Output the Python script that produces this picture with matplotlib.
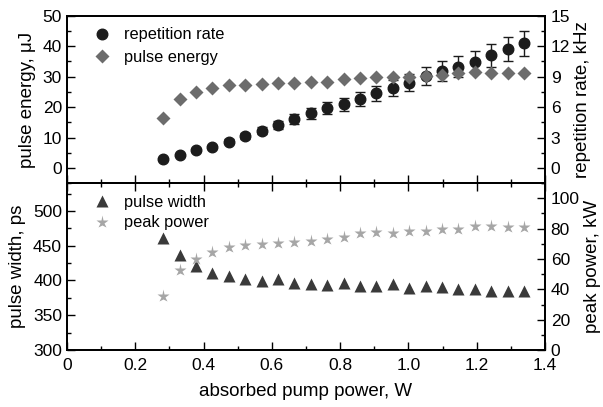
import matplotlib
matplotlib.use("Agg")
import matplotlib.pyplot as plt
from matplotlib.ticker import MultipleLocator, FixedLocator
from matplotlib.lines import Line2D

plt.rcParams['font.family'] = ['Liberation Sans', 'DejaVu Sans']
plt.rcParams['font.size'] = 11.5

# absorbed pump power, W
power = [0.282, 0.330, 0.378, 0.426, 0.474, 0.522, 0.570, 0.618, 0.666, 0.714,
         0.762, 0.810, 0.858, 0.906, 0.954, 1.002, 1.050, 1.098, 1.146, 1.194,
         1.242, 1.290, 1.338]
# pulse energy, uJ
pulse_energy = [16.4, 22.6, 25.1, 26.4, 27.3, 27.3, 27.6, 27.9, 27.9, 28.4,
                28.4, 29.3, 29.7, 29.8, 29.8, 30.0, 30.3, 30.6, 31.1, 31.4,
                31.1, 31.1, 31.1]
# repetition rate, kHz
rep_rate = [0.86, 1.28, 1.78, 2.1, 2.6, 3.16, 3.68, 4.24, 4.8, 5.4,
            5.89, 6.29, 6.78, 7.37, 7.87, 8.42, 9.1, 9.55, 10.0, 10.46,
            11.1, 11.72, 12.31]
rep_err = [0.09, 0.13, 0.18, 0.21, 0.26, 0.32, 0.37, 0.42, 0.48, 0.54,
           0.59, 0.63, 0.68, 0.74, 0.79, 0.84, 0.90, 0.96, 1.01, 1.05,
           1.11, 1.17, 1.23]
# pulse width, ps
pulse_width = [460.5, 436.5, 420.7, 411.0, 406.0, 402.0, 399.6, 401.6, 395.8, 394.8,
               393.4, 395.8, 392.4, 392.0, 394.4, 388.7, 392.0, 390.0, 387.2, 387.2,
               385.2, 385.2, 384.8]
# peak power, kW
peak_power = [35.6, 52.7, 59.7, 64.8, 68.0, 69.0, 69.8, 70.3, 70.9, 71.8,
              72.9, 74.7, 76.9, 77.9, 77.3, 78.6, 78.6, 79.5, 80.1, 81.7,
              81.7, 80.8, 81.2]

xticks = [0, 0.2, 0.4, 0.6, 0.8, 1.0, 1.2, 1.4]
xticklabels = ['0', '0.2', '0.4', '0.6', '0.8', '1.0', '1.2', '1.4']

fig = plt.figure(figsize=(6.03, 4.07), dpi=100)
L, R = 0.111, 0.904
ax1 = fig.add_axes([L, 0.550, R - L, 0.961 - 0.550])
ax2 = fig.add_axes([L, 0.140, R - L, 0.550 - 0.140])
ax1r = ax1.twinx()
ax2r = ax2.twinx()

c_circle = '#1c1c1c'
c_diam = '#6c6c6c'
c_tri = '#3a3a3a'
c_star = '#a6a6a6'
ms_c, ms_d, ms_t, ms_s = 7.6, 7.0, 8.0, 9.5

# top panel
ax1.plot(power, pulse_energy, linestyle='none', marker='D', ms=ms_d,
         color=c_diam, mec='none', zorder=3)
ax1r.errorbar(power, rep_rate, yerr=rep_err, fmt='o', ms=ms_c, color=c_circle,
              ecolor=c_circle, elinewidth=1.0, capsize=3.5, capthick=1.0,
              zorder=2)
ax1.set_zorder(ax1r.get_zorder() + 1)
ax1.patch.set_visible(False)

ax1.set_xlim(0, 1.4)
ax1.set_ylim(-5, 50)
ax1r.set_ylim(-1.5, 15)
ax1.yaxis.set_major_locator(MultipleLocator(10))
ax1.yaxis.set_minor_locator(MultipleLocator(5))
ax1r.yaxis.set_major_locator(MultipleLocator(3))
ax1r.yaxis.set_minor_locator(MultipleLocator(1.5))
ax1.set_ylabel('pulse energy, \u03bcJ', fontsize=13.5, labelpad=5)
ax1r.set_ylabel('repetition rate, kHz', fontsize=13.5, labelpad=3)

h1 = [Line2D([], [], linestyle='none', marker='o', ms=ms_c, color=c_circle),
      Line2D([], [], linestyle='none', marker='D', ms=ms_d, color=c_diam, mec='none')]
ax1.legend(h1, ['repetition rate', 'pulse energy'], loc='upper left',
           frameon=False, handletextpad=0.6, borderaxespad=0.3,
           labelspacing=0.45, handlelength=1.5, bbox_to_anchor=(0.024, 1.0),
           fontsize=11.8)

# bottom panel
ax2.plot(power, pulse_width, linestyle='none', marker='^', ms=ms_t,
         color=c_tri, mec='none', zorder=3)
ax2r.plot(power, peak_power, linestyle='none', marker='*', ms=ms_s,
          color=c_star, mec='none', zorder=3)
ax2.set_xlim(0, 1.4)
ax2.set_ylim(300, 540)
ax2r.set_ylim(0, 110)
ax2.yaxis.set_major_locator(MultipleLocator(50))
ax2.yaxis.set_minor_locator(MultipleLocator(25))
ax2r.yaxis.set_major_locator(MultipleLocator(20))
ax2r.yaxis.set_minor_locator(MultipleLocator(10))
ax2.set_ylabel('pulse width, ps', fontsize=13.5, labelpad=5)
ax2r.set_ylabel('peak power, kW', fontsize=13.5, labelpad=3)
ax2.set_xlabel('absorbed pump power, W', fontsize=13.5, labelpad=7)

h2 = [Line2D([], [], linestyle='none', marker='^', ms=ms_t, color=c_tri, mec='none'),
      Line2D([], [], linestyle='none', marker='*', ms=ms_s, color=c_star, mec='none')]
ax2.legend(h2, ['pulse width', 'peak power'], loc='upper left',
           frameon=False, handletextpad=0.6, borderaxespad=0.3,
           labelspacing=0.35, handlelength=1.5, bbox_to_anchor=(0.024, 1.0),
           fontsize=11.8)

for ax in (ax1, ax2):
    ax.xaxis.set_major_locator(FixedLocator(xticks))
    ax.xaxis.set_minor_locator(MultipleLocator(0.1))

ax2.set_xticklabels(xticklabels)

for ax in (ax1, ax2, ax1r, ax2r):
    ax.tick_params(which='both', direction='in', width=1.0, labelsize=12.5)
    ax.tick_params(which='major', length=6)
    ax.tick_params(which='minor', length=3)
    for s in ax.spines.values():
        s.set_linewidth(1.3)
ax1.tick_params(axis='x', which='both', labelbottom=False, top=False, bottom=True)
ax2.tick_params(axis='x', which='both', top=True, bottom=True, pad=6)
ax1.tick_params(axis='y', which='both', right=False)
ax2.tick_params(axis='y', which='both', right=False)
ax1r.tick_params(axis='y', which='both', left=False, pad=4)
ax2r.tick_params(axis='y', which='both', left=False, pad=4)
ax1r.tick_params(axis='x', which='both', top=False, bottom=False)
ax2r.tick_params(axis='x', which='both', top=False, bottom=False)

fig.savefig('out.png', dpi=100)
